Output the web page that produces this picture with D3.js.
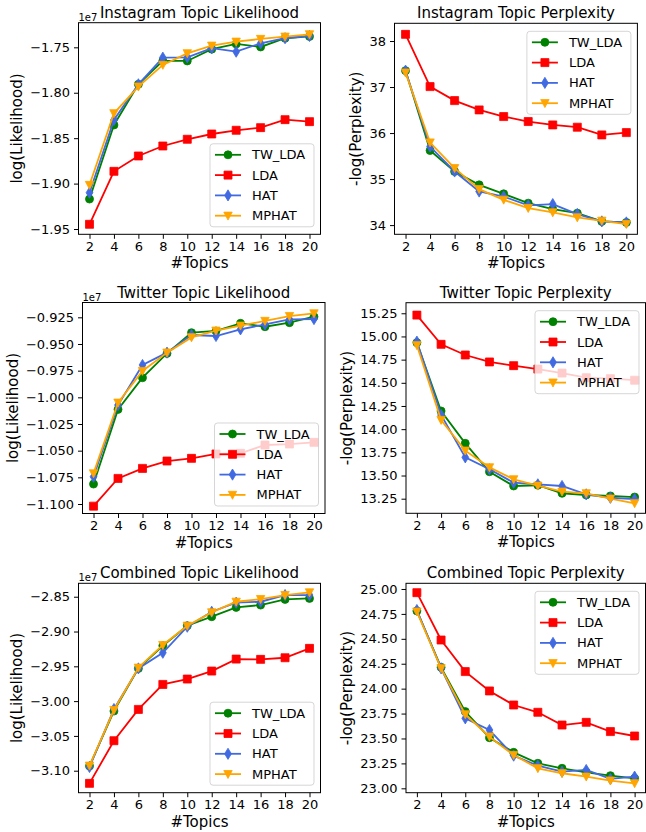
<!DOCTYPE html>
<html>
<head>
<meta charset="utf-8">
<script src="https://d3js.org/d3.v7.min.js"></script>
<style>
  body { margin: 0; background: #fff; }
  svg { display: block; font-family: "DejaVu Sans", sans-serif; }
</style>
</head>
<body>
<div id="chart"></div>
<script>
// number of topics, shared x values of every panel
var topics = [2, 4, 6, 8, 10, 12, 14, 16, 18, 20];
var seriesNames = ["TW_LDA", "LDA", "HAT", "MPHAT"];

// Instagram log likelihood (x 1e7)
var instaLikeTW    = [-1.917, -1.8355, -1.7907, -1.765, -1.765, -1.752, -1.7463, -1.7496, -1.740, -1.738];
var instaLikeLDA   = [-1.9448, -1.8865, -1.8696, -1.8586, -1.8512, -1.8454, -1.8413, -1.8384, -1.8296, -1.8318];
var instaLikeHAT   = [-1.910, -1.830, -1.7907, -1.7614, -1.761, -1.751, -1.7548, -1.7456, -1.740, -1.7375];
var instaLikeMPHAT = [-1.9015, -1.8226, -1.7933, -1.7694, -1.7566, -1.7482, -1.7438, -1.7408, -1.7383, -1.7357];

// Instagram -log(perplexity)
var instaPerpTW    = [37.356, 35.62, 35.165, 34.875, 34.68, 34.477, 34.347, 34.26, 34.08, 34.058];
var instaPerpLDA   = [38.145, 37.009, 36.705, 36.503, 36.358, 36.25, 36.177, 36.127, 35.96, 36.01];
var instaPerpHAT   = [37.356, 35.707, 35.165, 34.73, 34.62, 34.427, 34.456, 34.24, 34.08, 34.058];
var instaPerpMPHAT = [37.313, 35.794, 35.237, 34.781, 34.55, 34.369, 34.275, 34.166, 34.094, 34.022];

// Twitter log likelihood (x 1e7)
var twLikeTW    = [-1.0813, -1.0113, -0.9816, -0.9588, -0.9394, -0.9378, -0.9306, -0.9338, -0.930, -0.9244];
var twLikeLDA   = [-1.1020, -1.0760, -1.0666, -1.0597, -1.0572, -1.0531, -1.0525, -1.0447, -1.0438, -1.0422];
var twLikeHAT   = [-1.0744, -1.0072, -0.9697, -0.9581, -0.9416, -0.9425, -0.9363, -0.9316, -0.9269, -0.9266];
var twLikeMPHAT = [-1.0713, -1.005, -0.9753, -0.9581, -0.9438, -0.9375, -0.9328, -0.9284, -0.9238, -0.9213];

// Twitter -log(perplexity)
var twPerpTW    = [14.933, 14.196, 13.847, 13.541, 13.387, 13.395, 13.308, 13.29, 13.28, 13.268];
var twPerpLDA   = [15.23, 14.915, 14.80, 14.725, 14.685, 14.648, 14.605, 14.555, 14.545, 14.528];
var twPerpHAT   = [14.944, 14.153, 13.696, 13.567, 13.423, 13.405, 13.387, 13.297, 13.26, 13.245];
var twPerpMPHAT = [14.905, 14.099, 13.768, 13.588, 13.459, 13.39, 13.326, 13.308, 13.25, 13.20];

// Combined log likelihood (x 1e7)
var combLikeTW    = [-3.0933, -3.0143, -2.953, -2.9204, -2.8917, -2.8787, -2.8653, -2.862, -2.8538, -2.8524];
var combLikeLDA   = [-3.1182, -3.0569, -3.0119, -2.976, -2.9683, -2.9568, -2.9396, -2.940, -2.9377, -2.9242];
var combLikeHAT   = [-3.0947, -3.0114, -2.953, -2.9305, -2.8931, -2.8716, -2.8586, -2.8572, -2.8476, -2.8476];
var combLikeMPHAT = [-3.0928, -3.0128, -2.952, -2.9194, -2.8917, -2.8725, -2.8572, -2.8534, -2.8476, -2.8438];

// Combined -log(perplexity)
var combPerpTW    = [24.78, 24.214, 23.77, 23.508, 23.361, 23.251, 23.201, 23.161, 23.127, 23.10];
var combPerpLDA   = [24.963, 24.488, 24.171, 23.977, 23.836, 23.763, 23.635, 23.662, 23.569, 23.525];
var combPerpHAT   = [24.789, 24.204, 23.702, 23.585, 23.328, 23.227, 23.167, 23.184, 23.094, 23.117];
var combPerpMPHAT = [24.773, 24.204, 23.742, 23.518, 23.334, 23.201, 23.151, 23.117, 23.077, 23.05];

// y tick labels
var likeTicksInsta = [-1.95, -1.90, -1.85, -1.80, -1.75];
var perpTicksInsta = [34, 35, 36, 37, 38];
var likeTicksTw    = [-1.100, -1.075, -1.050, -1.025, -1.000, -0.975, -0.950, -0.925];
var perpTicksTw    = [13.25, 13.50, 13.75, 14.00, 14.25, 14.50, 14.75, 15.00, 15.25];
var likeTicksComb  = [-3.10, -3.05, -3.00, -2.95, -2.90, -2.85];
var perpTicksComb  = [23.00, 23.25, 23.50, 23.75, 24.00, 24.25, 24.50, 24.75, 25.00];

var colors = ["green", "red", "royalblue", "orange"];
var markers = ["circle", "square", "thinDiamond", "triangleDown"];

var panels = [
  { title: "Instagram Topic Likelihood", ylabel: "log(Likelihood)", offset: "1e7",
    series: [instaLikeTW, instaLikeLDA, instaLikeHAT, instaLikeMPHAT], ticks: likeTicksInsta, fmt: ".2f",
    box: [78.5, 320.5, 22.7, 234.3], ydom: [-1.9558, -1.7229], legend: "br" },
  { title: "Instagram Topic Perplexity", ylabel: "-log(Perplexity)",
    series: [instaPerpTW, instaPerpLDA, instaPerpHAT, instaPerpMPHAT], ticks: perpTicksInsta, fmt: "d",
    box: [394.5, 637.4, 23.3, 234.3], ydom: [33.80, 38.385], legend: "tr" },
  { title: "Twitter Topic Likelihood", ylabel: "log(Likelihood)", offset: "1e7",
    series: [twLikeTW, twLikeLDA, twLikeHAT, twLikeMPHAT], ticks: likeTicksTw, fmt: ".3f",
    box: [82.5, 325, 302.5, 513.5], ydom: [-1.1089, -0.9111], legend: "br" },
  { title: "Twitter Topic Perplexity", ylabel: "-log(Perplexity)",
    series: [twPerpTW, twPerpLDA, twPerpHAT, twPerpMPHAT], ticks: perpTicksTw, fmt: ".2f",
    box: [406, 645.5, 302.7, 513.3], ydom: [13.0925, 15.364], legend: "tr" },
  { title: "Combined Topic Likelihood", ylabel: "log(Likelihood)", offset: "1e7",
    series: [combLikeTW, combLikeLDA, combLikeHAT, combLikeMPHAT], ticks: likeTicksComb, fmt: ".2f",
    box: [78.5, 320.5, 583.3, 792.7], ydom: [-3.1316, -2.8307], legend: "br" },
  { title: "Combined Topic Perplexity", ylabel: "-log(Perplexity)",
    series: [combPerpTW, combPerpLDA, combPerpHAT, combPerpMPHAT], ticks: perpTicksComb, fmt: ".2f",
    box: [406, 645.5, 583.3, 792.7], ydom: [22.956, 25.057], legend: "tr" }
];

var svg = d3.select("#chart").append("svg")
    .attr("width", 646)
    .attr("height", 832);
svg.append("rect").attr("width", 646).attr("height", 832).attr("fill", "#fff");

// marker shapes, roughly matplotlib's default size at this dpi
function markerPath(kind) {
  switch (kind) {
    case "square": return "M-4,-4h8v8h-8Z";
    case "thinDiamond": return "M0,-5.6L3.4,0L0,5.6L-3.4,0Z";
    case "triangleDown": return "M-4.2,-3.6L4.2,-3.6L0,4.4Z";
    case "circle":
    default: return "M4,0A4,4 0 1,1 -4,0A4,4 0 1,1 4,0Z";
  }
}

panels.forEach(function(p, pi) {
  var left = p.box[0], right = p.box[1], top = p.box[2], bottom = p.box[3];
  var x = d3.scaleLinear().domain([1.1, 20.9]).range([left, right]);
  var y = d3.scaleLinear().domain(p.ydom).range([bottom, top]);
  var g = svg.append("g");

  g.append("clipPath").attr("id", "clip" + pi)
    .append("rect").attr("x", left).attr("y", top)
    .attr("width", right - left).attr("height", bottom - top);

  // series: line + markers, drawn in legend order
  var line = d3.line().x(function(d, i) { return x(topics[i]); }).y(function(d) { return y(d); });
  var plot = g.append("g").attr("clip-path", "url(#clip" + pi + ")");
  p.series.forEach(function(vals, si) {
    var sg = plot.append("g");
    sg.append("path").attr("d", line(vals))
      .attr("fill", "none").attr("stroke", colors[si]).attr("stroke-width", 1.8);
    sg.selectAll("path.m").data(vals).enter().append("path")
      .attr("class", "m")
      .attr("transform", function(d, i) { return "translate(" + x(topics[i]) + "," + y(d) + ")"; })
      .attr("d", markerPath(markers[si]))
      .attr("fill", colors[si]).attr("stroke", colors[si]).attr("stroke-width", 0.8);
  });

  // axes
  var xAxis = g.append("g").attr("transform", "translate(0," + bottom + ")")
    .call(d3.axisBottom(x).tickValues(topics).tickSize(4.5).tickPadding(3).tickSizeOuter(0));
  var yAxis = g.append("g").attr("transform", "translate(" + left + ",0)")
    .call(d3.axisLeft(y).tickValues(p.ticks).tickFormat(d3.format(p.fmt)).tickSize(4.5).tickPadding(4).tickSizeOuter(0));
  [xAxis, yAxis].forEach(function(a) {
    a.select(".domain").remove();
    a.attr("font-size", 13).attr("font-family", "DejaVu Sans, sans-serif").attr("color", "#000");
  });

  // frame
  g.append("rect").attr("x", left).attr("y", top)
    .attr("width", right - left).attr("height", bottom - top)
    .attr("fill", "none").attr("stroke", "#000").attr("stroke-width", 1);

  // title and labels
  g.append("text").attr("x", (left + right) / 2).attr("y", top - 5)
    .attr("text-anchor", "middle").attr("font-size", 15).text(p.title);
  g.append("text").attr("x", (left + right) / 2).attr("y", bottom + 34)
    .attr("text-anchor", "middle").attr("font-size", 15).text("#Topics");
  var bb = yAxis.node().getBBox();
  var lx = left + bb.x - 8;
  g.append("text")
    .attr("transform", "translate(" + lx + "," + ((top + bottom) / 2) + ") rotate(-90)")
    .attr("text-anchor", "middle").attr("font-size", 15).text(p.ylabel);
  if (p.offset) {
    g.append("text").attr("x", left).attr("y", top - 2)
      .attr("font-size", 10).text(p.offset);
  }

  // legend
  var lw = 104, lh = 83;
  var lxp = right - 6.5 - lw;
  var lyp = p.legend === "tr" ? top + 8 : bottom - 7.5 - lh;
  var lg = g.append("g").attr("transform", "translate(" + lxp + "," + lyp + ")");
  lg.append("rect").attr("width", lw).attr("height", lh).attr("rx", 3)
    .attr("fill", "#fff").attr("fill-opacity", 0.8)
    .attr("stroke", "#ccc").attr("stroke-opacity", 0.8);
  seriesNames.forEach(function(name, si) {
    var cy = 11 + si * 20.3;
    lg.append("line").attr("x1", 5).attr("x2", 31).attr("y1", cy).attr("y2", cy)
      .attr("stroke", colors[si]).attr("stroke-width", 1.8);
    lg.append("path").attr("transform", "translate(18," + cy + ")")
      .attr("d", markerPath(markers[si]))
      .attr("fill", colors[si]).attr("stroke", colors[si]).attr("stroke-width", 0.8);
    lg.append("text").attr("x", 42).attr("y", cy).attr("dy", "0.35em")
      .attr("font-size", 13).text(name);
  });
});
</script>
</body>
</html>
